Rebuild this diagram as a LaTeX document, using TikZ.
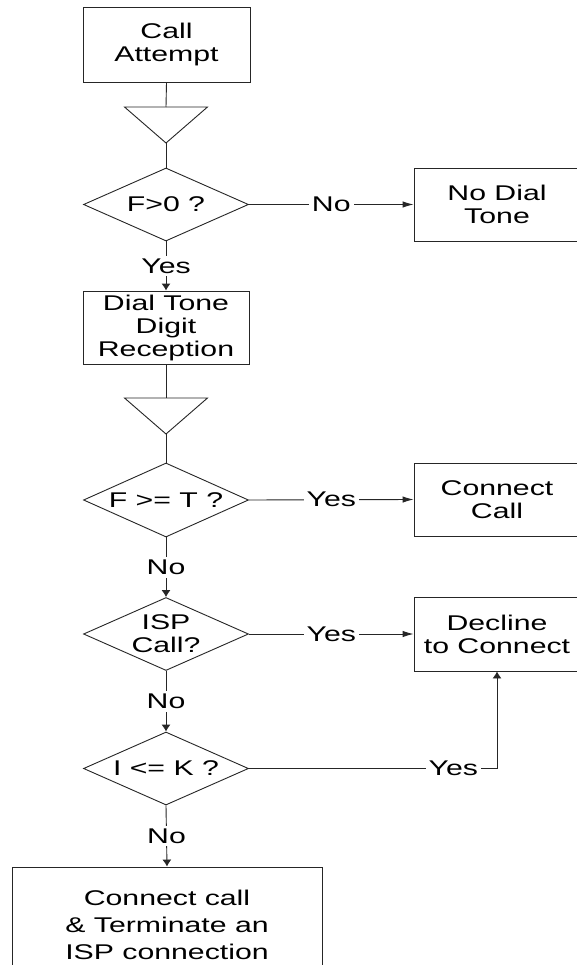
\documentclass[tikz,border=0pt]{standalone}
\usepackage{fontspec}
\setmainfont{Liberation Sans}[FakeStretch=1.42]
\usetikzlibrary{shapes.geometric,arrows.meta}
\newcommand\myfs{\fontsize{21.3}{23}\selectfont}
\newcommand\myfsb{\fontsize{21.3}{27}\selectfont}
\begin{document}
\begin{tikzpicture}[x=1pt,y=-1pt,
  ln/.style={draw=black!85, line width=0.9pt},
  box/.style={ln, rectangle, inner sep=0pt, align=center, font=\myfs},
  dia/.style={ln, diamond, inner sep=0pt, minimum width=165pt, minimum height=73pt},
  txt/.style={inner sep=0pt, align=center, font=\myfs},
  lbl/.style={fill=white, inner sep=3pt, font=\myfs},
  harr/.style={-{Latex[length=11pt,width=6.5pt]}},
  varr/.style={-{Latex[length=7pt,width=9pt]}}]
\useasboundingbox (0,0) rectangle (577,965);
\clip (0,0) rectangle (577,965);
\fill[white] (0,0) rectangle (577,965);

% boxes
\node[box, minimum width=167pt, minimum height=75pt] (ca) at (166.5,44.5) {Call\\Attempt};
\node[box, minimum width=166pt, minimum height=73pt] (dt) at (166,327.5) {Dial Tone\\Digit\\Reception};
\node[box, minimum width=166pt, minimum height=73pt] (nd) at (497,204.5) {No Dial\\Tone};
\node[box, minimum width=166pt, minimum height=73pt] (cc) at (497,499.5) {Connect\\Call};
\node[box, minimum width=166pt, minimum height=74pt] (dc) at (497,634) {Decline\\to Connect};
\node[box, font=\myfsb, minimum width=310pt, minimum height=116pt] (fin) at (167,925) {Connect call\\\& Terminate an\\ISP connection};

% triangles
\coordinate (t1) at (166,107);
\coordinate (t1a) at (166,143);
\draw[ln] (124.5,107) -- (207.5,107) -- (t1a) -- cycle;
\coordinate (t2) at (166,398);
\coordinate (t2a) at (166,434);
\draw[ln] (124.5,398) -- (207.5,398) -- (t2a) -- cycle;

% diamonds
\node[dia] (d1) at (166,204.5) {};
\node[txt] (d1t) at (d1) {F>0 ?};
\node[dia, minimum height=74pt] (d2) at (166,500) {};
\node[txt] (d2t) at (d2) {F >= T ?};
\node[dia] (d3) at (166,634) {};
\node[txt] (d3t) at (d3) {ISP\\Call?};
\node[dia] (d4) at (166,768.5) {};
\node[txt] (d4t) at (d4) {I <= K ?};

% connectors
\draw[ln] (ca.south) -- (t1);
\draw[ln] (t1a) -- (d1.north);
\draw[ln, harr] (d1.east) -- node[lbl] (l1) {No} (nd.west);
\draw[ln, varr] (d1.south) -- node[lbl] (l2) {Yes} (dt.north);
\draw[ln] (dt.south) -- (t2);
\draw[ln] (t2a) -- (d2.north);
\draw[ln, harr] (d2.east) -- node[lbl] (l3) {Yes} (cc.west);
\draw[ln, varr] (d2.south) -- node[lbl] (l4) {No} (d3.north);
\draw[ln, harr] (d3.east) -- node[lbl] (l5) {Yes} (dc.west);
\draw[ln, varr] (d3.south) -- node[lbl] (l6) {No} (d4.north);
\coordinate (corner) at (dc.south |- d4.east);
\draw[ln, varr] (d4.east) -- node[lbl, pos=0.824] (l7) {Yes} (corner) -- (dc.south);
\draw[ln, varr] (d4.south) -- node[lbl] (l8) {No} (fin.north);
\end{tikzpicture}
\end{document}
